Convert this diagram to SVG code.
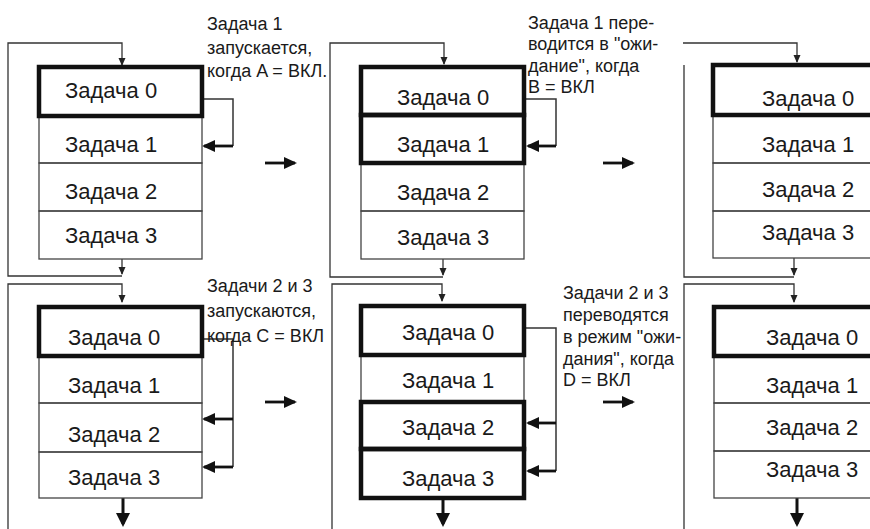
<svg xmlns="http://www.w3.org/2000/svg" width="870" height="529" viewBox="0 0 870 529">
<style>
.row{fill:none;stroke:#444;stroke-width:1.3}
.act{fill:none;stroke:#111;stroke-width:4.5}
.lbl{font-family:"Liberation Sans",Arial,sans-serif;font-size:22px;fill:#1a1a1a}
.note{font-family:"Liberation Sans",Arial,sans-serif;font-size:18px;fill:#1a1a1a}
.thin{fill:none;stroke:#333;stroke-width:1.3}
.fb{fill:none;stroke:#333;stroke-width:1.5}
.thick{fill:none;stroke:#111;stroke-width:2.8}
.bold{fill:none;stroke:#111;stroke-width:3}
</style>
<defs>
<marker id="ah" markerUnits="userSpaceOnUse" markerWidth="9" markerHeight="8" refX="7" refY="3.5" orient="auto"><path d="M0,0 L8,3.5 L0,7 z" fill="#222"/></marker>
<marker id="ahb" markerUnits="userSpaceOnUse" markerWidth="14" markerHeight="13" refX="11" refY="6" orient="auto"><path d="M0,0 L13,6 L0,12 z" fill="#111"/></marker>
<marker id="ahd" markerUnits="userSpaceOnUse" markerWidth="15" markerHeight="15" refX="11" refY="7" orient="auto"><path d="M0,0 L14,7 L0,14 z" fill="#111"/></marker>
</defs>
<rect width="870" height="529" fill="#fff"/>

<g id="connectors">
<path class="thin" d="M122,276 H8 V43 H122 V65" marker-end="url(#ah)"/>
<path class="thin" d="M122,259 V274" marker-end="url(#ah)"/>
<path class="fb" d="M202,99 H233 V146"/>
<path class="thick" d="M233,146 H204" marker-end="url(#ahb)"/>
<path class="thick" d="M265,163 H295" marker-end="url(#ahb)"/>
<path class="thin" d="M443,277 H330 V43 H444 V64" marker-end="url(#ah)"/>
<path class="thin" d="M443,259 V275" marker-end="url(#ah)"/>
<path class="fb" d="M524,99 H556 V146"/>
<path class="thick" d="M556,146 H528" marker-end="url(#ahb)"/>
<path class="thick" d="M603,163 H633" marker-end="url(#ahb)"/>
<path class="thin" d="M683,43 H797 V62" marker-end="url(#ah)"/>
<path class="thin" d="M684,65 V277 H794"/>
<path class="thin" d="M794,258 V275" marker-end="url(#ah)"/>
<path class="thin" d="M8,529 V284 H122 V302" marker-end="url(#ah)"/>
<path class="fb" d="M202,339 H233 V467"/>
<path class="thick" d="M233,419 H204" marker-end="url(#ahb)"/>
<path class="thick" d="M233,467 H204" marker-end="url(#ahb)"/>
<path class="thick" d="M265,402 H295" marker-end="url(#ahb)"/>
<path class="bold" d="M123,498 V524" marker-end="url(#ahd)"/>
<path class="thin" d="M332,529 V284 H442 V301" marker-end="url(#ah)"/>
<path class="fb" d="M524,328 H556 V471"/>
<path class="thick" d="M556,423 H528" marker-end="url(#ahb)"/>
<path class="thick" d="M556,471 H528" marker-end="url(#ahb)"/>
<path class="thick" d="M603,402 H633" marker-end="url(#ahb)"/>
<path class="bold" d="M443,498 V524" marker-end="url(#ahd)"/>
<path class="thin" d="M684,529 V284 H794 V302" marker-end="url(#ah)"/>
<path class="bold" d="M797,498 V524" marker-end="url(#ahd)"/>
</g>

<g id="tl-task1"><rect class="row" x="39" y="116" width="163" height="47"/><text class="lbl" x="65" y="152">Задача 1</text></g>
<g id="tl-task2"><rect class="row" x="39" y="163" width="163" height="48"/><text class="lbl" x="65" y="199">Задача 2</text></g>
<g id="tl-task3"><rect class="row" x="39" y="211" width="163" height="48"/><text class="lbl" x="65" y="243">Задача 3</text></g>
<g id="tl-task0"><rect class="act" x="39" y="67" width="163" height="49"/><text class="lbl" x="65" y="98">Задача 0</text></g>
<g id="tl-note"><text class="note" x="207" y="30">Задача 1</text><text class="note" x="207" y="54">запускается,</text><text class="note" x="207" y="77">когда A = ВКЛ.</text></g>

<g id="tm-task2"><rect class="row" x="361" y="163" width="163" height="48"/><text class="lbl" x="397" y="200">Задача 2</text></g>
<g id="tm-task3"><rect class="row" x="361" y="211" width="163" height="48"/><text class="lbl" x="397" y="245">Задача 3</text></g>
<g id="tm-task0"><rect class="act" x="361" y="67" width="163" height="48"/><text class="lbl" x="397" y="105">Задача 0</text></g>
<g id="tm-task1"><rect class="act" x="361" y="115" width="163" height="48"/><text class="lbl" x="397" y="152">Задача 1</text></g>
<g id="tm-note"><text class="note" x="528" y="29">Задача 1 пере-</text><text class="note" x="528" y="50">водится в "ожи-</text><text class="note" x="528" y="72">дание", когда</text><text class="note" x="528" y="93">B = ВКЛ</text></g>

<g id="tr-task1"><rect class="row" x="713" y="115" width="190" height="48"/><text class="lbl" x="762" y="152">Задача 1</text></g>
<g id="tr-task2"><rect class="row" x="713" y="163" width="190" height="48"/><text class="lbl" x="762" y="197">Задача 2</text></g>
<g id="tr-task3"><rect class="row" x="713" y="211" width="190" height="47"/><text class="lbl" x="762" y="240">Задача 3</text></g>
<g id="tr-task0"><rect class="act" x="713" y="65" width="190" height="50"/><text class="lbl" x="762" y="106">Задача 0</text></g>

<g id="bl-task1"><rect class="row" x="39" y="356" width="163" height="47"/><text class="lbl" x="68" y="393">Задача 1</text></g>
<g id="bl-task2"><rect class="row" x="39" y="403" width="163" height="49"/><text class="lbl" x="68" y="442">Задача 2</text></g>
<g id="bl-task3"><rect class="row" x="39" y="452" width="163" height="46"/><text class="lbl" x="68" y="485">Задача 3</text></g>
<g id="bl-task0"><rect class="act" x="39" y="307" width="163" height="49"/><text class="lbl" x="68" y="345">Задача 0</text></g>
<g id="bl-note"><text class="note" x="207" y="292">Задачи 2 и 3</text><text class="note" x="207" y="317">запускаются,</text><text class="note" x="207" y="342">когда C = ВКЛ</text></g>

<g id="bm-task1"><rect class="row" x="361" y="355" width="163" height="47"/><text class="lbl" x="402" y="388">Задача 1</text></g>
<g id="bm-task0"><rect class="act" x="361" y="306" width="163" height="49"/><text class="lbl" x="402" y="340">Задача 0</text></g>
<g id="bm-task2"><rect class="act" x="361" y="402" width="163" height="47"/><text class="lbl" x="402" y="435">Задача 2</text></g>
<g id="bm-task3"><rect class="act" x="361" y="449" width="163" height="49"/><text class="lbl" x="402" y="486">Задача 3</text></g>
<g id="bm-note"><text class="note" x="563" y="299">Задачи 2 и 3</text><text class="note" x="563" y="321">переводятся</text><text class="note" x="563" y="343">в режим "ожи-</text><text class="note" x="563" y="365">дания", когда</text><text class="note" x="563" y="386">D = ВКЛ</text></g>

<g id="br-task1"><rect class="row" x="714" y="356" width="190" height="47"/><text class="lbl" x="766" y="393">Задача 1</text></g>
<g id="br-task2"><rect class="row" x="714" y="403" width="190" height="48"/><text class="lbl" x="766" y="435">Задача 2</text></g>
<g id="br-task3"><rect class="row" x="714" y="451" width="190" height="47"/><text class="lbl" x="766" y="477">Задача 3</text></g>
<g id="br-task0"><rect class="act" x="714" y="307" width="190" height="49"/><text class="lbl" x="766" y="345">Задача 0</text></g>
</svg>
